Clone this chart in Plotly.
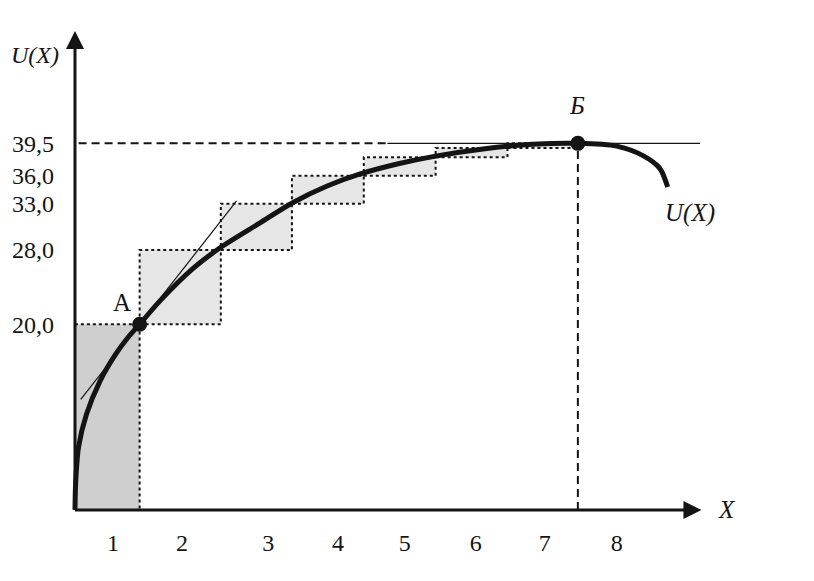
import plotly.graph_objects as go

# ---- data ----
units = ["1", "2", "3", "4", "5", "6", "7", "8"]
unit_label_pos = [0.53, 1.49, 2.69, 3.66, 4.59, 5.58, 6.54, 7.54]
box_edges = [0, 0.9, 2.03, 3.02, 4.02, 5.02, 6.02, 7.0]
total_utility = [20.0, 28.0, 33.0, 36.0, 38.0, 39.0, 39.5]
y_tick_vals = [20.0, 28.0, 33.0, 36.0, 39.5]
y_tick_text = ["20,0", "28,0", "33,0", "36,0", "39,5"]

curve_x = [0, 0.01, 0.05, 0.16, 0.35, 0.56, 0.74, 0.9, 1.18, 1.64, 2.03, 2.57, 3.03,
           3.51, 3.97, 4.5, 5.0, 5.68, 6.37, 7.0, 7.54, 7.9, 8.14, 8.25]
curve_u = [0, 3.0, 6.8, 10.3, 13.9, 16.7, 18.6, 20.0, 22.5, 26.0, 28.3, 30.9, 33.1,
           34.9, 36.2, 37.3, 38.1, 38.9, 39.4, 39.5, 39.2, 38.2, 36.8, 34.8]

point_A = (0.9, 20.0)
point_B = (7.0, 39.5)
tangent_A_x = [0.08, 2.25]
tangent_A_u = [11.9, 33.3]
tangent_B_x = [4.35, 8.7]

INK = "#141414"
SERIF = "Liberation Serif, Times New Roman, serif"

fig = go.Figure()

# boxes (increments of total utility)
for i, top in enumerate(total_utility):
    base = 0 if i == 0 else total_utility[i - 1]
    x0, x1 = box_edges[i], box_edges[i + 1]
    fig.add_trace(go.Scatter(
        x=[x0, x1, x1, x0, x0], y=[base, base, top, top, base],
        mode="lines", fill="toself",
        fillcolor="#cfcfcf" if i == 0 else "#e6e6e6",
        line=dict(color=INK, width=2, dash="dot"),
        hoverinfo="skip", showlegend=False))

# dashed guide at 39,5 and vertical guide at Б
fig.add_trace(go.Scatter(x=[0.05, tangent_B_x[0]], y=[point_B[1], point_B[1]], mode="lines",
                         line=dict(color=INK, width=2, dash="8px,5px"), showlegend=False))
fig.add_trace(go.Scatter(x=[point_B[0], point_B[0]], y=[0, point_B[1]], mode="lines",
                         line=dict(color=INK, width=2, dash="8px,5px"), showlegend=False))
# tangent at Б
fig.add_trace(go.Scatter(x=tangent_B_x, y=[point_B[1], point_B[1]], mode="lines",
                         line=dict(color=INK, width=1.2), showlegend=False))
# tangent at A
fig.add_trace(go.Scatter(x=tangent_A_x, y=tangent_A_u, mode="lines",
                         line=dict(color=INK, width=1.2), showlegend=False))

# utility curve
fig.add_trace(go.Scatter(x=curve_x, y=curve_u, mode="lines",
                         line=dict(color=INK, width=5, shape="spline", smoothing=0.8),
                         showlegend=False))
# points A and Б
fig.add_trace(go.Scatter(x=[point_A[0], point_B[0]], y=[point_A[1], point_B[1]],
                         mode="markers", marker=dict(color=INK, size=15),
                         cliponaxis=False, showlegend=False))

# axes with arrows
arrow = dict(showarrow=True, arrowhead=2, arrowsize=1.2, arrowwidth=3, arrowcolor=INK,
             text="", axref="x", ayref="y", xref="x", yref="y", standoff=0)
fig.add_annotation(x=8.72, y=0, ax=-0.02, ay=0, **arrow)
fig.add_annotation(x=0, y=51.6, ax=0, ay=-0.15, **arrow)

font = dict(family=SERIF, size=25, color=INK)
txt = dict(showarrow=False, xref="x", yref="y", font=font,
           xanchor="center", yanchor="middle")
fig.add_annotation(x=8.56, y=32.0, text="<i>U(X)</i>", **txt)
fig.add_annotation(x=0.65, y=22.3, text="A", **txt)
fig.add_annotation(x=6.99, y=43.6, text="<i>Б</i>", **txt)
# axis titles (outside the axis ranges -> paper coordinates)
ptxt = dict(showarrow=False, xref="paper", yref="paper", font=font,
            xanchor="center", yanchor="middle")
fig.add_annotation(x=-0.048, y=0.953, text="<i>U(X)</i>",
                   **{**ptxt, "font": dict(family=SERIF, size=24, color=INK)})
fig.add_annotation(x=1.0425, y=0.022, text="<i>X</i>", **ptxt)

fig.update_layout(
    width=806, height=573,
    margin=dict(l=57, r=114, t=24, b=61),
    paper_bgcolor="white", plot_bgcolor="white",
    xaxis=dict(range=[-0.139, 8.70], showgrid=False, zeroline=False, showline=False,
               tickvals=unit_label_pos, ticktext=units, ticks="",
               ticklabelstandoff=6, automargin=False,
               tickfont=dict(family=SERIF, size=24, color=INK)),
    yaxis=dict(range=[-1.09, 51.5], showgrid=False, zeroline=False, showline=False,
               tickvals=y_tick_vals, ticktext=y_tick_text, ticks="",
               ticklabelstandoff=10, automargin=False,
               tickfont=dict(family=SERIF, size=24, color=INK)),
)

fig.write_html("out.html")
